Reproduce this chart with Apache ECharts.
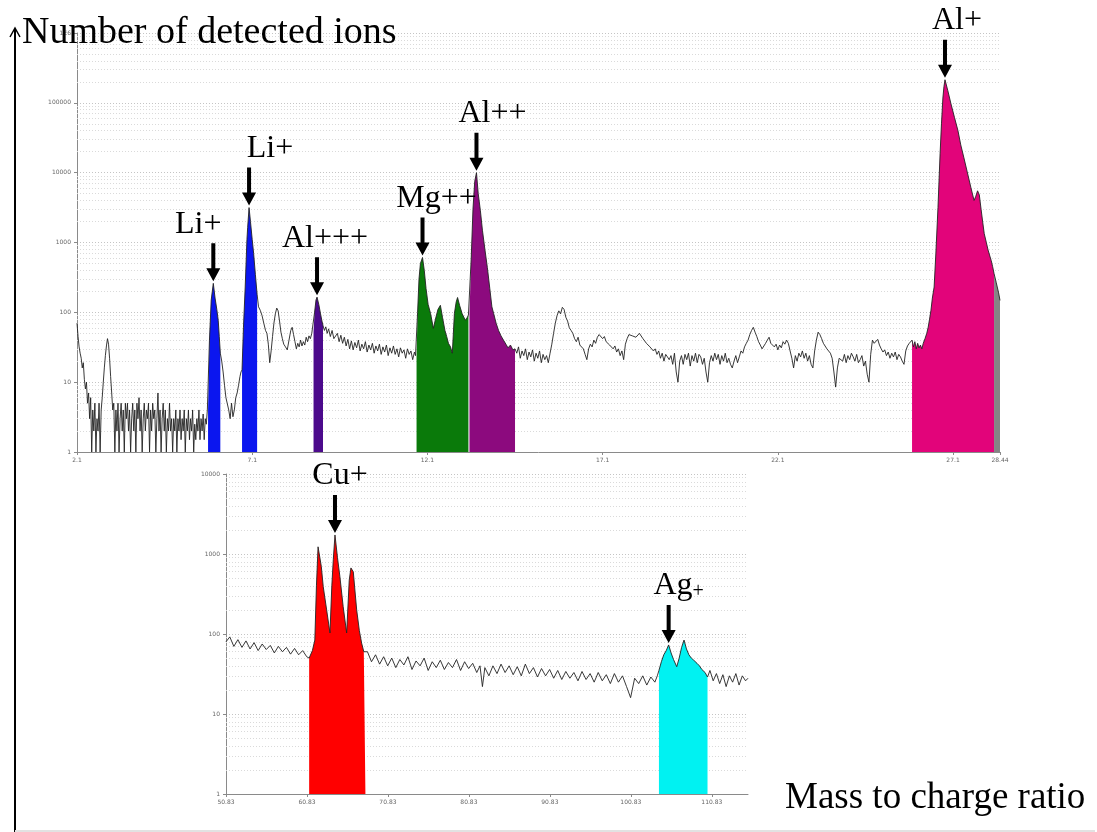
<!DOCTYPE html>
<html>
<head>
<meta charset="utf-8">
<title>Mass spectrum</title>
<script src="https://cdn.jsdelivr.net/npm/echarts@6/dist/echarts.min.js"></script>
<style>
html, body { margin: 0; padding: 0; background: #fff; }
#chart { width: 1097px; height: 832px; }
</style>
</head>
<body>
<div id="chart"></div>
<script>
// upper spectrum, [mass to charge, counts]
const upperSpectrum = [
  [2.1,70],[2.13,45],[2.16,32],[2.19,26],[2.22,22],[2.25,16],[2.28,19],[2.31,11],[2.34,8],[2.37,10],
  [2.4,5],[2.43,7],[2.46,3],[2.49,6],[2.52,1],[2.55,4],[2.58,2],[2.61,5],[2.64,1],[2.67,3],
  [2.7,2],[2.73,5],[2.76,1],[2.79,4],[2.82,6],[2.85,10],[2.88,16],[2.91,24],[2.94,33],[2.97,42],
  [3.0,35],[3.03,22],[3.06,12],[3.09,7],[3.12,4],[3.15,5],[3.18,1],[3.21,4],[3.24,2],[3.27,5],
  [3.3,1],[3.33,3],[3.36,5],[3.39,2],[3.42,4],[3.45,1],[3.48,5],[3.51,3],[3.54,5],[3.57,2],
  [3.6,4],[3.63,1],[3.66,3],[3.69,5],[3.72,2],[3.75,4],[3.78,1],[3.81,5],[3.84,3],[3.87,6],
  [3.9,2],[3.93,4],[3.96,1],[3.99,3],[4.02,5],[4.05,2],[4.08,4],[4.11,3],[4.14,5],[4.17,1],
  [4.2,4],[4.23,2],[4.26,5],[4.29,3],[4.32,4],[4.35,1],[4.38,3],[4.41,7],[4.44,2],[4.47,4],
  [4.5,1],[4.53,3],[4.56,5],[4.59,2],[4.62,4],[4.65,1],[4.68,3],[4.71,2],[4.74,5],[4.77,2],
  [4.8,3],[4.83,1],[4.86,3],[4.89,2],[4.92,4],[4.95,1],[4.98,3],[5.01,2],[5.04,4],[5.07,1.5],
  [5.1,3],[5.13,2],[5.16,4],[5.19,1],[5.22,3],[5.25,2],[5.28,4],[5.31,1.5],[5.34,3],[5.37,2],
  [5.4,4],[5.43,1],[5.46,2.5],[5.49,1.5],[5.52,3],[5.55,2],[5.58,4],[5.61,1.5],[5.64,3],[5.67,2],
  [5.7,3.5],[5.73,1.5],[5.76,3],[5.79,2.5],[5.82,4],
  [5.84,4],[5.88,40],[5.93,150],[5.99,260],[6.04,160],[6.09,110],[6.13,77],[6.16,45],[6.19,26],
  [6.23,20],[6.27,14],[6.31,9],[6.35,6],[6.39,6],[6.43,4],[6.47,3],[6.51,5],[6.55,3.2],[6.59,4],
  [6.63,6],[6.67,7],[6.71,9],[6.75,12],[6.78,14],
  [6.81,15],[6.85,60],[6.9,230],[6.95,1100],[6.97,1630],[7.01,3160],[7.05,2000],[7.1,1100],[7.14,700],
  [7.19,350],[7.24,180],
  [7.28,120],[7.33,107],[7.38,90],[7.43,70],[7.48,55],[7.52,50],[7.56,35],[7.6,19],[7.64,28],[7.68,45],
  [7.72,70],[7.76,95],[7.8,115],[7.84,105],[7.88,75],[7.92,52],[7.96,42],[8.0,35],[8.05,32],[8.1,29],
  [8.15,40],[8.2,55],[8.24,61],[8.28,48],[8.32,38],[8.36,30],[8.4,36],[8.44,32],[8.48,40],[8.52,33],
  [8.56,38],[8.6,34],[8.64,44],[8.68,38],[8.72,46],[8.76,42],[8.8,50],
  [8.85,52],[8.88,100],[8.92,150],[8.95,165],[9.0,130],[9.05,95],[9.09,75],[9.12,65],
  [9.16,55],[9.2,62],[9.24,50],[9.28,58],[9.33,45],[9.38,55],[9.43,42],[9.48,40],[9.53,50],[9.58,38],
  [9.63,47],[9.68,36],[9.73,44],[9.78,33],[9.83,41],[9.88,30],[9.93,39],[9.98,29],[10.03,37],[10.08,31],
  [10.13,40],[10.18,28],[10.23,35],[10.28,30],[10.33,38],[10.38,27],[10.43,34],[10.48,29],[10.53,36],[10.58,26],
  [10.63,33],[10.68,28],[10.73,35],[10.78,25],[10.83,32],[10.88,27],[10.93,34],[10.98,24],[11.03,31],[11.08,26],
  [11.13,33],[11.18,25],[11.23,30],[11.28,23],[11.33,31],[11.38,26],[11.43,29],[11.48,22],[11.53,30],[11.58,25],
  [11.63,28],[11.68,21],[11.73,27],[11.76,24],
  [11.79,23],[11.82,100],[11.86,300],[11.9,500],[11.96,610],[12.01,400],[12.06,220],[12.12,130],[12.19,96],[12.27,59],
  [12.33,80],[12.4,110],[12.47,126],[12.53,85],[12.6,55],[12.65,45],[12.7,36],[12.76,32],[12.81,26],[12.87,96],
  [12.92,140],[12.96,163],[13.02,125],[13.09,96],[13.14,85],[13.19,77],[13.24,85],[13.27,91],
  [13.3,95],[13.35,600],[13.4,3000],[13.45,7500],[13.5,10000],[13.55,5000],[13.61,2900],[13.67,1500],[13.74,800],[13.81,440],
  [13.88,220],[13.94,120],[13.99,96],[14.06,70],[14.13,55],[14.2,46],[14.27,40],[14.34,35],[14.4,31],[14.47,34],
  [14.54,29],[14.6,30],
  [14.65,26],[14.7,32],[14.75,22],[14.8,28],[14.85,24],[14.9,30],[14.95,21],[15.0,27],[15.05,23],[15.1,29],
  [15.15,20],[15.2,26],[15.25,22],[15.3,28],[15.35,19],[15.4,25],[15.45,21],[15.5,24],[15.55,19],[15.6,26],
  [15.65,35],[15.7,50],[15.75,70],[15.8,90],[15.85,105],[15.9,95],[15.95,118],[16.0,110],[16.05,85],[16.1,75],
  [16.15,60],[16.2,55],[16.25,50],[16.3,42],[16.35,38],[16.4,44],[16.45,34],[16.5,36],[16.55,30],[16.6,25],
  [16.65,21],[16.7,30],[16.75,35],[16.8,32],[16.85,40],[16.9,36],[16.95,44],[17.0,48],[17.05,50],[17.1,42],
  [17.15,45],[17.2,38],[17.25,40],[17.3,34],[17.35,36],[17.4,30],[17.45,33],[17.5,27],[17.55,30],[17.6,24],
  [17.65,28],[17.7,21],[17.75,35],[17.8,42],[17.85,48],[17.9,50],[17.95,46],[18.0,48],[18.05,44],[18.1,46],
  [18.15,50],[18.2,48],[18.25,42],[18.3,40],[18.35,36],[18.4,38],[18.45,32],[18.5,34],[18.55,28],[18.6,30],
  [18.65,25],[18.7,28],[18.75,22],[18.8,26],[18.85,20],[18.9,25],[18.95,23],[19.0,21],[19.05,24],[19.1,18],
  [19.15,26],[19.2,14],[19.25,10],[19.3,20],[19.35,24],[19.4,18],[19.45,25],[19.5,21],[19.55,26],[19.6,17],
  [19.65,24],[19.7,20],[19.75,26],[19.8,19],[19.85,25],[19.9,23],[19.95,18],[20.0,22],[20.05,14],[20.1,10],
  [20.15,19],[20.2,24],[20.25,20],[20.3,26],[20.35,21],[20.4,25],[20.45,18],[20.5,24],[20.55,20],[20.6,26],
  [20.65,19],[20.7,22],[20.75,18],[20.8,16],[20.85,20],[20.9,24],[20.95,19],[21.0,23],[21.05,28],[21.1,26],
  [21.15,32],[21.2,36],[21.25,40],[21.3,48],[21.35,55],[21.4,61],[21.45,52],[21.5,45],[21.55,38],[21.6,34],
  [21.65,30],[21.7,32],[21.75,36],[21.8,40],[21.85,44],[21.9,36],[21.95,38],[22.0,32],[22.05,35],[22.1,29],
  [22.15,34],[22.2,31],[22.25,38],[22.3,35],[22.35,40],[22.4,36],[22.45,28],[22.5,22],[22.55,16],[22.6,24],
  [22.65,20],[22.7,26],[22.75,23],[22.8,28],[22.85,22],[22.9,26],[22.95,20],[23.0,24],[23.05,18],[23.1,16],
  [23.15,28],[23.2,40],[23.25,52],[23.3,48],[23.35,42],[23.4,36],[23.45,38],[23.5,30],[23.55,32],[23.6,26],
  [23.65,22],[23.7,14],[23.75,8.5],[23.8,16],[23.85,22],[23.9,23],[23.95,20],[24.0,25],[24.05,19],[24.1,24],
  [24.15,21],[24.2,26],[24.25,23],[24.3,20],[24.35,25],[24.4,19],[24.45,21],[24.5,24],[24.55,17],[24.6,20],
  [24.65,13],[24.7,10],[24.75,25],[24.8,40],[24.85,36],[24.9,38],[24.95,41],[25.0,34],[25.05,30],[25.1,27],
  [25.15,29],[25.2,24],[25.25,27],[25.3,22],[25.35,26],[25.4,23],[25.45,27],[25.5,21],[25.55,25],[25.6,23],
  [25.65,20],[25.7,18],[25.75,28],[25.8,33],[25.85,36],[25.9,34],
  [25.93,40],[25.97,32],[26.01,38],[26.05,30],[26.09,36],[26.13,31],[26.17,34],[26.21,30],[26.25,36],[26.3,42],
  [26.35,50],[26.39,61],[26.43,80],[26.47,107],[26.51,160],[26.56,230],[26.61,700],[26.67,3160],[26.73,18600],[26.77,50000],
  [26.81,117000],[26.84,170000],[26.87,214000],[26.95,150000],[27.04,97000],[27.14,62000],[27.24,40000],[27.32,25000],[27.41,16300],[27.5,10500],
  [27.61,6100],[27.7,4000],[27.75,4600],[27.8,5500],[27.85,4800],[27.9,3000],[27.95,1900],[27.99,1340],[28.05,1000],[28.1,780],
  [28.15,640],[28.19,550],[28.23,450],[28.27,360],[28.33,270],[28.4,190],[28.44,148]
];
const upperTicks = [2.1, 7.1, 12.1, 17.1, 22.1, 27.1, 28.44];
const upperWindows = [[5.84, 6.19], [6.81, 7.24], [8.85, 9.12], [11.79, 13.27], [13.3, 14.6], [25.93, 28.27], [28.27, 28.44]];
const upperPeakNames = ['Li+', 'Li+', 'Al+++', 'Mg++', 'Al++', 'Al+'];
const upperPeakMass = [5.99, 7.01, 8.95, 11.96, 13.5, 26.87];

// lower spectrum, [mass to charge, counts]
const lowerSpectrum = [
  [50.83,80],[51.3,92],[51.8,70],[52.3,85],[52.8,68],[53.3,82],[53.8,65],[54.3,78],[54.8,62],[55.3,75],
  [55.8,64],[56.3,72],[56.8,58],[57.3,70],[57.8,60],[58.3,68],[58.8,56],[59.3,66],[59.8,55],[60.3,62],
  [60.8,52],
  [61.1,50],[61.5,62],[61.8,84],[62.0,400],[62.2,1230],[62.35,1300],[62.6,700],[62.84,390],[63.26,200],[63.67,103],
  [63.9,400],[64.08,850],[64.29,1730],[64.6,900],[64.9,520],[65.3,220],[65.73,103],[66.05,470],[66.26,670],[66.55,600],
  [66.97,200],[67.3,110],[67.58,77],[67.85,60],[68.05,58],
  [68.3,60],[68.8,45],[69.3,55],[69.8,42],[70.3,52],[70.8,40],[71.3,50],[71.8,38],[72.3,48],[72.8,41],
  [73.3,52],[73.8,36],[74.3,46],[74.8,40],[75.3,50],[75.8,35],[76.3,45],[76.8,38],[77.3,47],[77.8,36],
  [78.3,44],[78.8,38],[79.3,48],[79.8,35],[80.3,45],[80.8,37],[81.3,43],[81.8,33],[82.2,40],[82.5,22],
  [82.8,38],[83.3,30],[83.8,40],[84.3,32],[84.8,42],[85.3,33],[85.8,40],[86.3,31],[86.8,39],[87.3,30],
  [87.8,42],[88.3,32],[88.8,38],[89.3,29],[89.8,37],[90.3,30],[90.8,36],[91.3,28],[91.8,35],[92.3,27],
  [92.8,34],[93.3,28],[93.8,33],[94.3,26],[94.8,34],[95.3,27],[95.8,32],[96.3,25],[96.8,33],[97.3,26],
  [97.8,31],[98.3,24],[98.8,32],[99.3,25],[99.8,30],[100.3,22],[100.8,16],[101.3,28],[101.8,24],[102.3,30],
  [102.8,23],[103.3,29],[103.8,25],[104.1,30],
  [104.3,35],[104.6,45],[104.9,55],[105.2,62],[105.5,73],[105.8,58],[106.1,48],[106.5,39],[106.8,50],[107.1,68],
  [107.4,84],[107.7,65],[108.0,55],[108.3,50],[108.6,47],[109.0,43],[109.3,40],[109.6,36],[110.0,33],[110.3,29],
  [110.6,35],[111.0,26],[111.4,32],[111.8,24],[112.2,31],[112.6,22],[113.0,30],[113.4,25],[113.8,32],[114.2,23],
  [114.6,30],[115.0,26],[115.3,28]
];
const lowerTicks = [50.83, 60.83, 70.83, 80.83, 90.83, 100.83, 110.83];
const lowerWindows = [[61.1, 68.05], [104.3, 110.3]];
const lowerPeakNames = ['Cu+', 'Ag+'];
const lowerPeakMass = [64.29, 105.5];
const lowerSubscriptCharge = [false, true];

// styling
const upperColors = ['#0b16ef', '#0b16ef', '#4c0a8c', '#0a7a0a', '#8c0a7e', '#e2047a', '#858585'];
const lowerColors = ['#ff0000', '#00f2f2'];
const upperLabelShift = [-15, 21, 8, 14, 16, 12];
const lowerLabelShift = [5, 10];
const serif = '"Liberation Serif", "Times New Roman", serif';
const arrowPath = 'path://M5,0L9,0L9,25L14,25L7,38L0,25L5,25Z';

function countsAt(spectrum, m) {
  let best = spectrum[0];
  spectrum.forEach(p => { if (Math.abs(p[0] - m) < Math.abs(best[0] - m)) best = p; });
  return best[1];
}

function minorLevels(maxExp) {
  const out = [];
  for (let e = 0; e < maxExp; e++) {
    for (let k = 2; k <= 9; k++) out.push({ yAxis: k * Math.pow(10, e) });
  }
  return out;
}

function xAxisFor(idx, min, max, ticks) {
  return {
    type: 'value', gridIndex: idx, min: min, max: max,
    axisLine: { lineStyle: { color: '#8a8a8a', width: 1 } },
    axisTick: { customValues: ticks, length: 3, lineStyle: { color: '#8a8a8a' } },
    axisLabel: { customValues: ticks, fontSize: 6, color: '#666', margin: 5, fontFamily: 'DejaVu Sans' },
    splitLine: { show: false }
  };
}

function yAxisFor(idx, max, splits) {
  return {
    type: 'log', logBase: 10, gridIndex: idx, min: 1, max: max, splitNumber: splits,
    axisLine: { show: true, lineStyle: { color: '#8a8a8a', width: 1 } },
    axisTick: { show: true, length: 3, lineStyle: { color: '#8a8a8a' } },
    axisLabel: {
      fontSize: 6, color: '#666', margin: 6, fontFamily: 'DejaVu Sans',
      formatter: v => (v >= 1e6 ? '1E6' : String(Math.round(v)))
    },
    splitLine: { show: true, lineStyle: { color: '#c4c4c4', type: [1, 2], width: 1 } }
  };
}

function buildSeries(idx, spectrum, windows, colors, names, masses, shifts, subs, maxExp) {
  const list = windows.map((w, i) => ({
    type: 'line', xAxisIndex: idx, yAxisIndex: idx,
    data: spectrum.filter(p => p[0] >= w[0] - 1e-9 && p[0] <= w[1] + 1e-9),
    symbol: 'none', silent: true, z: 2,
    lineStyle: { width: 0, opacity: 0 },
    areaStyle: { color: colors[i], opacity: 1, origin: 'start' }
  }));
  list.push({
    type: 'line', xAxisIndex: idx, yAxisIndex: idx, data: spectrum,
    symbol: 'none', silent: true, z: 3,
    lineStyle: { color: '#222', width: 0.9 },
    markLine: {
      silent: true, symbol: 'none', label: { show: false },
      lineStyle: { color: '#dadada', type: [1, 2], width: 1 },
      data: minorLevels(maxExp), z: 1
    },
    markPoint: {
      symbol: arrowPath, symbolSize: [14, 38], symbolOffset: [0, -21],
      itemStyle: { color: '#000' },
      label: {
        show: true, position: 'top', distance: 3, color: '#000',
        fontFamily: serif, fontSize: 32,
        rich: {
          a: { fontFamily: serif, fontSize: 32, color: '#000' },
          s: { fontFamily: serif, fontSize: 20, color: '#000', verticalAlign: 'bottom', padding: [12, 0, 0, 0] }
        }
      },
      data: names.map((n, i) => ({
        name: n,
        coord: [masses[i], countsAt(spectrum, masses[i])],
        label: {
          offset: [shifts[i], 0],
          formatter: subs && subs[i] ? '{a|' + n.slice(0, -1) + '}{s|' + n.slice(-1) + '}' : n
        }
      }))
    }
  });
  return list;
}

const chart = echarts.init(document.getElementById('chart'));
chart.setOption({
  animation: false,
  backgroundColor: '#ffffff',
  grid: [
    { left: 77, right: 97, top: 33, bottom: 380 },
    { left: 226, right: 349, top: 474, bottom: 38 }
  ],
  xAxis: [
    xAxisFor(0, 2.1, 28.44, upperTicks),
    xAxisFor(1, 50.83, 115.3, lowerTicks)
  ],
  yAxis: [
    yAxisFor(0, 1e6, 6),
    yAxisFor(1, 1e4, 4)
  ],
  series: buildSeries(0, upperSpectrum, upperWindows, upperColors, upperPeakNames, upperPeakMass, upperLabelShift, null, 6)
    .concat(buildSeries(1, lowerSpectrum, lowerWindows, lowerColors, lowerPeakNames, lowerPeakMass, lowerLabelShift, lowerSubscriptCharge, 4)),
  graphic: [
    { type: 'line', z: 100, shape: { x1: 15, y1: 29, x2: 15, y2: 832 }, style: { stroke: '#000', lineWidth: 2 } },
    { type: 'polyline', z: 100, shape: { points: [[10, 37], [15, 28], [20, 37]] }, style: { stroke: '#000', lineWidth: 1.5, fill: null } },
    { type: 'line', z: 100, shape: { x1: 15, y1: 831, x2: 1095, y2: 831 }, style: { stroke: '#e2e2e2', lineWidth: 2 } },
    { type: 'text', z: 100, x: 22, y: 33, style: { text: 'Number of detected ions', font: '38px ' + serif, fill: '#000', align: 'left', verticalAlign: 'middle' } },
    { type: 'text', z: 100, x: 785, y: 798, style: { text: 'Mass to charge ratio', font: '37px ' + serif, fill: '#000', align: 'left', verticalAlign: 'middle' } }
  ]
});
</script>
</body>
</html>
